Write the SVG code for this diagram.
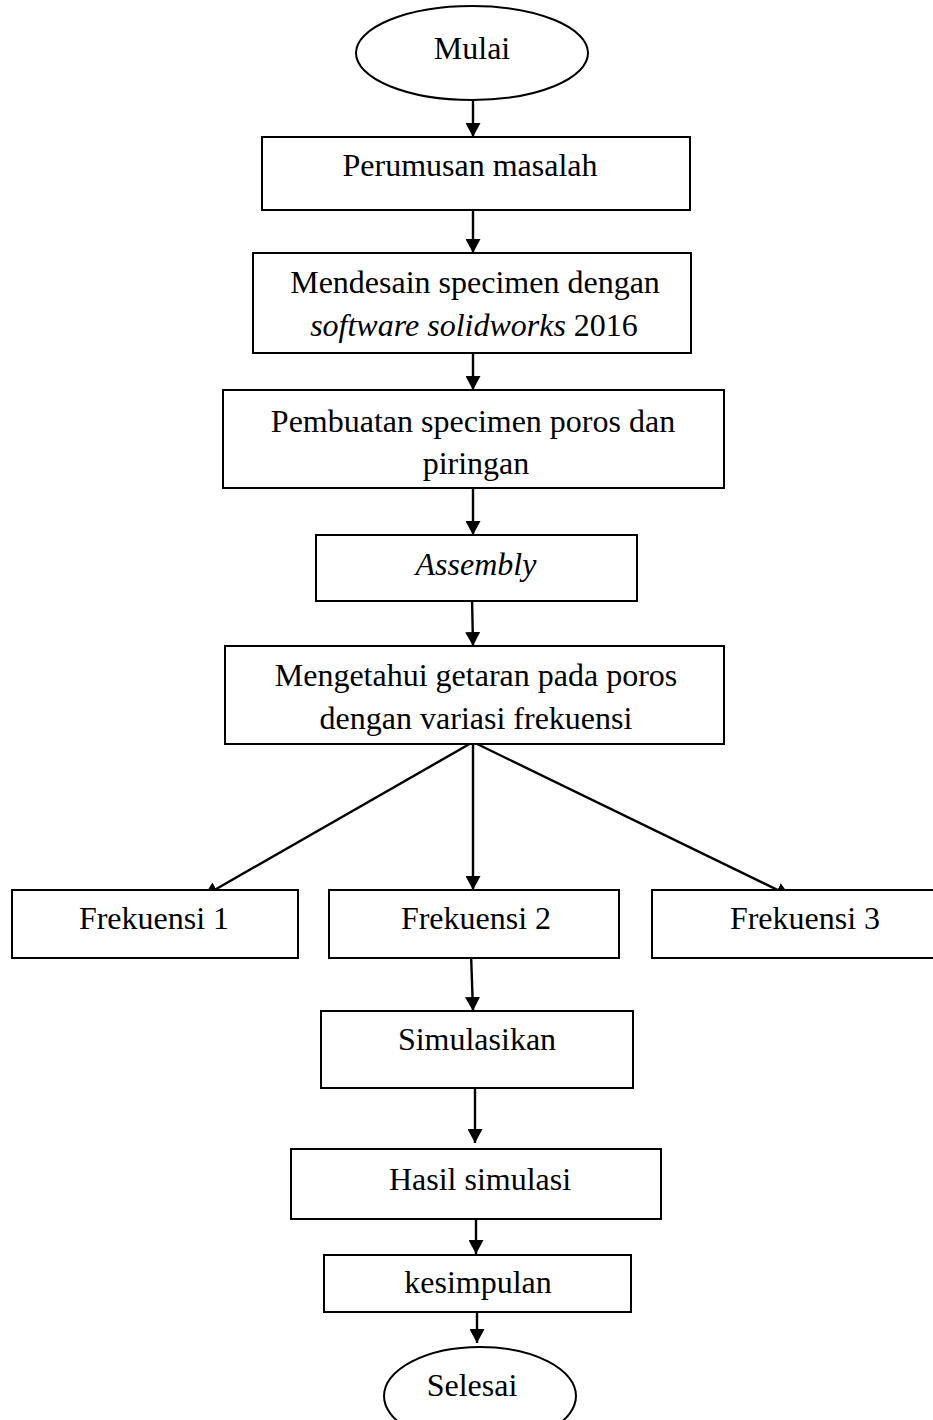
<svg xmlns="http://www.w3.org/2000/svg" width="933" height="1420" viewBox="0 0 933 1420">
<style>
.box{fill:#fff;stroke:#000;stroke-width:2}
.t{font-family:"Liberation Serif","Times New Roman",serif;font-size:32px;fill:#000;text-anchor:middle}
.i{font-style:italic}
.c{stroke:#000;stroke-width:2.4;fill:none}
</style>
<defs>
<marker id="ad" viewBox="0 0 14 15" refX="14" refY="7.5" markerWidth="14" markerHeight="15" markerUnits="userSpaceOnUse" orient="auto">
<path d="M0,0 L14,7.5 L0,15 Z" fill="#000"/>
</marker>
</defs>
<rect width="933" height="1420" fill="#fff"/>
<g id="connectors">
<line class="c" x1="473" y1="98" x2="473" y2="137" marker-end="url(#ad)"/>
<line class="c" x1="473" y1="205" x2="473" y2="253" marker-end="url(#ad)"/>
<line class="c" x1="473" y1="343" x2="473" y2="390" marker-end="url(#ad)"/>
<line class="c" x1="473" y1="486" x2="473" y2="535" marker-end="url(#ad)"/>
<line class="c" x1="472" y1="597" x2="473" y2="646" marker-end="url(#ad)"/>
<line class="c" x1="473" y1="742" x2="204" y2="896" marker-end="url(#ad)"/>
<line class="c" x1="473" y1="742" x2="473" y2="890" marker-end="url(#ad)"/>
<line class="c" x1="473" y1="742" x2="790" y2="896" marker-end="url(#ad)"/>
<line class="c" x1="471" y1="953" x2="473" y2="1011" marker-end="url(#ad)"/>
<line class="c" x1="475" y1="1086" x2="475" y2="1143" marker-end="url(#ad)"/>
<line class="c" x1="476" y1="1219" x2="476" y2="1254" marker-end="url(#ad)"/>
<line class="c" x1="477" y1="1308" x2="477" y2="1343" marker-end="url(#ad)"/>
</g>
<g id="mulai">
<ellipse class="box" cx="472" cy="53" rx="116" ry="47"/>
<text class="t" x="472" y="59">Mulai</text>
</g>
<g id="perumusan">
<rect class="box" x="262" y="137" width="428" height="73"/>
<text class="t" x="470" y="176">Perumusan masalah</text>
</g>
<g id="mendesain">
<rect class="box" x="253" y="253" width="438" height="100"/>
<text class="t" x="475" y="293">Mendesain specimen dengan</text>
<text class="t" x="474" y="336"><tspan class="i">software solidworks</tspan> 2016</text>
</g>
<g id="pembuatan">
<rect class="box" x="223" y="390" width="501" height="98"/>
<text class="t" x="473" y="432">Pembuatan specimen poros dan</text>
<text class="t" x="476" y="474">piringan</text>
</g>
<g id="assembly">
<rect class="box" x="316" y="535" width="321" height="66"/>
<text class="t i" x="476" y="575">Assembly</text>
</g>
<g id="mengetahui">
<rect class="box" x="225" y="646" width="499" height="98"/>
<text class="t" x="476" y="686">Mengetahui getaran pada poros</text>
<text class="t" x="476" y="729">dengan variasi frekuensi</text>
</g>
<g id="frekuensi1">
<rect class="box" x="12" y="890" width="286" height="68"/>
<text class="t" x="154" y="929">Frekuensi 1</text>
</g>
<g id="frekuensi2">
<rect class="box" x="329" y="890" width="290" height="68"/>
<text class="t" x="476" y="929">Frekuensi 2</text>
</g>
<g id="frekuensi3">
<rect class="box" x="652" y="890" width="290" height="68"/>
<text class="t" x="805" y="929">Frekuensi 3</text>
</g>
<g id="simulasikan">
<rect class="box" x="321" y="1011" width="312" height="77"/>
<text class="t" x="477" y="1050">Simulasikan</text>
</g>
<g id="hasil">
<rect class="box" x="291" y="1149" width="370" height="70"/>
<text class="t" x="480" y="1190">Hasil simulasi</text>
</g>
<g id="kesimpulan">
<rect class="box" x="324" y="1255" width="307" height="57"/>
<text class="t" x="478" y="1293">kesimpulan</text>
</g>
<g id="selesai">
<ellipse class="box" cx="480" cy="1396" rx="96" ry="49"/>
<text class="t" x="472" y="1396">Selesai</text>
</g>
</svg>
